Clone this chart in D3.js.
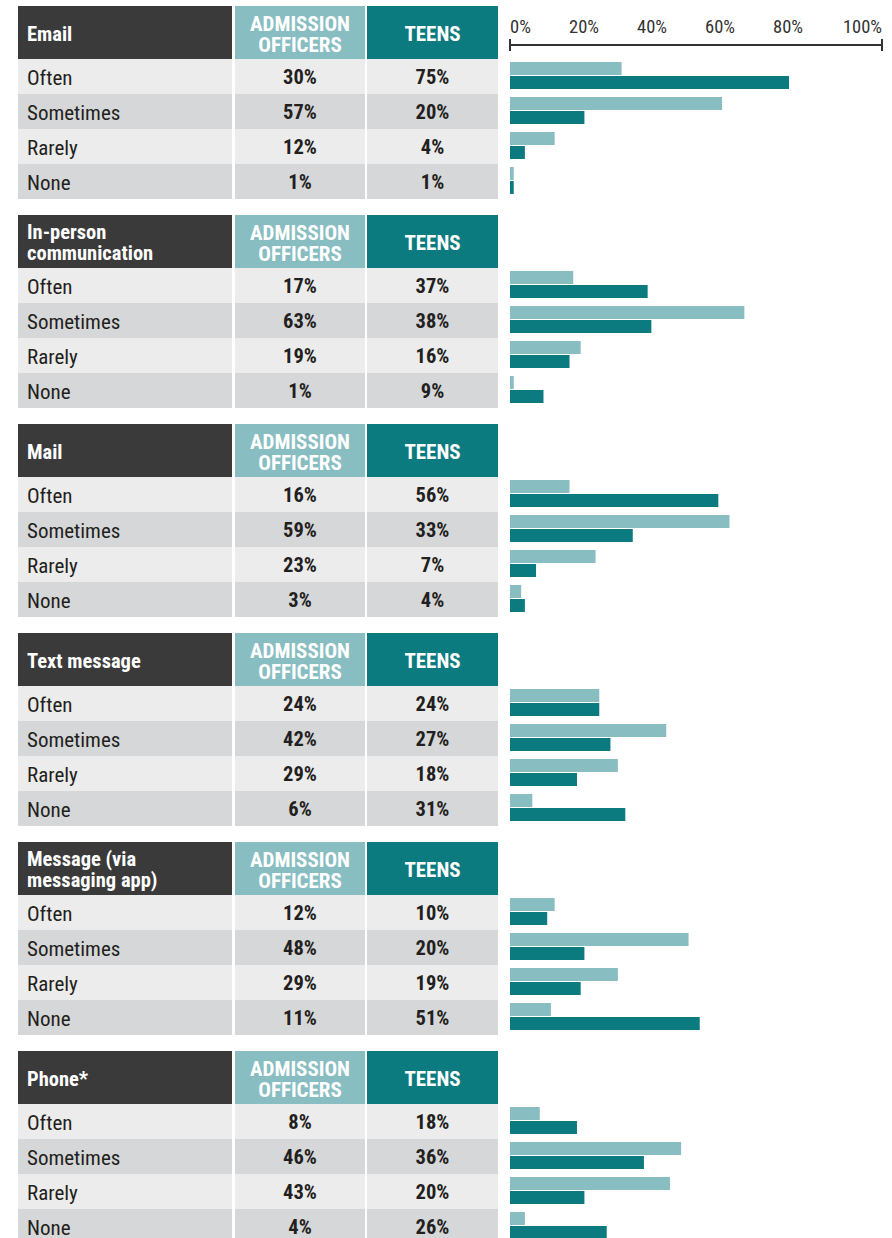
<!DOCTYPE html>
<html><head><meta charset="utf-8">
<script src="https://cdn.jsdelivr.net/npm/d3@7"></script>
<style>
html,body{margin:0;padding:0;background:#fff;}
svg{display:block;}
text{font-family:"Roboto Condensed","Roboto",sans-serif;}
</style></head>
<body>
<svg id="chart" width="892" height="1238"></svg>
<script>
const sections = ["Email", "In-person\ncommunication", "Mail", "Text message", "Message (via\nmessaging app)", "Phone*"];
const frequencies = ["Often", "Sometimes", "Rarely", "None"];
const seriesNames = ["ADMISSION\nOFFICERS", "TEENS"];
const admissionOfficers = [
  [30, 57, 12, 1],
  [17, 63, 19, 1],
  [16, 59, 23, 3],
  [24, 42, 29, 6],
  [12, 48, 29, 11],
  [8, 46, 43, 4]
];
const teens = [
  [75, 20, 4, 1],
  [37, 38, 16, 9],
  [56, 33, 7, 4],
  [24, 27, 18, 31],
  [10, 20, 19, 51],
  [18, 36, 20, 26]
];
const tickValues = [0, 20, 40, 60, 80, 100];

const colors = {dark:"#3a3a3a", adm:"#88bdc1", teen:"#0b7b80", rowA:"#ececec", rowB:"#d6d7d9", text:"#231f20"};

const svg = d3.select("#chart");
const x = d3.scaleLinear().domain([0, 100]).range([510, 882]);
const labelX = d3.scaleLinear().domain([0, 100]).range([516, 856]);

const sectionY = d3.scaleBand().domain(d3.range(sections.length)).range([6, 6 + 209 * sections.length]).paddingInner(0);
const headerH = 53, rowH = 35;
const cols = {label:[18, 232], adm:[235, 365], teen:[367, 498]};

// axis
const axisG = svg.append("g");
axisG.append("line").attr("x1", x(0)).attr("x2", x(100)).attr("y1", 45).attr("y2", 45)
  .attr("stroke", "#333").attr("stroke-width", 2);
[0, 100].forEach(v => axisG.append("line").attr("x1", x(v)).attr("x2", x(v)).attr("y1", 39).attr("y2", 51)
  .attr("stroke", "#333").attr("stroke-width", 2));
axisG.selectAll("text.tick").data(tickValues).join("text")
  .attr("class", "tick")
  .attr("x", (d, i) => i === 0 ? x(0) : i === tickValues.length - 1 ? x(100) : labelX(d))
  .attr("y", 33)
  .attr("text-anchor", (d, i) => i === 0 ? "start" : i === tickValues.length - 1 ? "end" : "middle")
  .attr("font-size", 18.5).attr("fill", "#333")
  .text(d => d + "%");

function multiline(g, str, xPos, yCenter, anchor, size, lh) {
  const lines = str.split("\n");
  const t = g.append("text").attr("x", xPos).attr("text-anchor", anchor)
    .attr("font-size", size).attr("font-weight", 700).attr("fill", "#fff");
  const start = yCenter - (lines.length - 1) * lh / 2;
  lines.forEach((l, i) => t.append("tspan").attr("x", xPos).attr("y", start + i * lh).attr("dy", "0.36em").text(l));
}

sections.forEach((name, si) => {
  const top = sectionY(si);
  const g = svg.append("g");
  // headers
  g.append("rect").attr("x", cols.label[0]).attr("y", top).attr("width", cols.label[1] - cols.label[0]).attr("height", headerH).attr("fill", colors.dark);
  g.append("rect").attr("x", cols.adm[0]).attr("y", top).attr("width", cols.adm[1] - cols.adm[0]).attr("height", headerH).attr("fill", colors.adm);
  g.append("rect").attr("x", cols.teen[0]).attr("y", top).attr("width", cols.teen[1] - cols.teen[0]).attr("height", headerH).attr("fill", colors.teen);
  multiline(g, name, 27, top + 27.5, "start", 20.5, 21);
  multiline(g, seriesNames[0], (cols.adm[0] + cols.adm[1]) / 2, top + 27.5, "middle", 21, 21);
  multiline(g, seriesNames[1], (cols.teen[0] + cols.teen[1]) / 2, top + 27.5, "middle", 21, 21);

  const rowY = d3.scaleBand().domain(frequencies).range([top + headerH, top + headerH + rowH * frequencies.length]);
  frequencies.forEach((f, ri) => {
    const ry = rowY(f);
    const fill = ri % 2 === 0 ? colors.rowA : colors.rowB;
    [cols.label, cols.adm, cols.teen].forEach(c => g.append("rect").attr("x", c[0]).attr("y", ry).attr("width", c[1] - c[0]).attr("height", rowH).attr("fill", fill));
    g.append("text").attr("x", 27).attr("y", ry + rowH / 2 + 0.5).attr("dy", "0.36em")
      .attr("font-size", 21).attr("fill", colors.text).text(f);
    g.append("text").attr("x", (cols.adm[0] + cols.adm[1]) / 2).attr("y", ry + rowH / 2 + 0.5).attr("dy", "0.36em")
      .attr("text-anchor", "middle").attr("font-size", 20.5).attr("font-weight", 700).attr("fill", colors.text)
      .text(admissionOfficers[si][ri] + "%");
    g.append("text").attr("x", (cols.teen[0] + cols.teen[1]) / 2).attr("y", ry + rowH / 2 + 0.5).attr("dy", "0.36em")
      .attr("text-anchor", "middle").attr("font-size", 20.5).attr("font-weight", 700).attr("fill", colors.text)
      .text(teens[si][ri] + "%");
    // bars
    g.append("rect").attr("x", x(0)).attr("y", ry + 3).attr("width", x(admissionOfficers[si][ri]) - x(0)).attr("height", 13).attr("fill", colors.adm);
    g.append("rect").attr("x", x(0)).attr("y", ry + 17).attr("width", x(teens[si][ri]) - x(0)).attr("height", 13).attr("fill", colors.teen);
  });
});
</script>
</body></html>
